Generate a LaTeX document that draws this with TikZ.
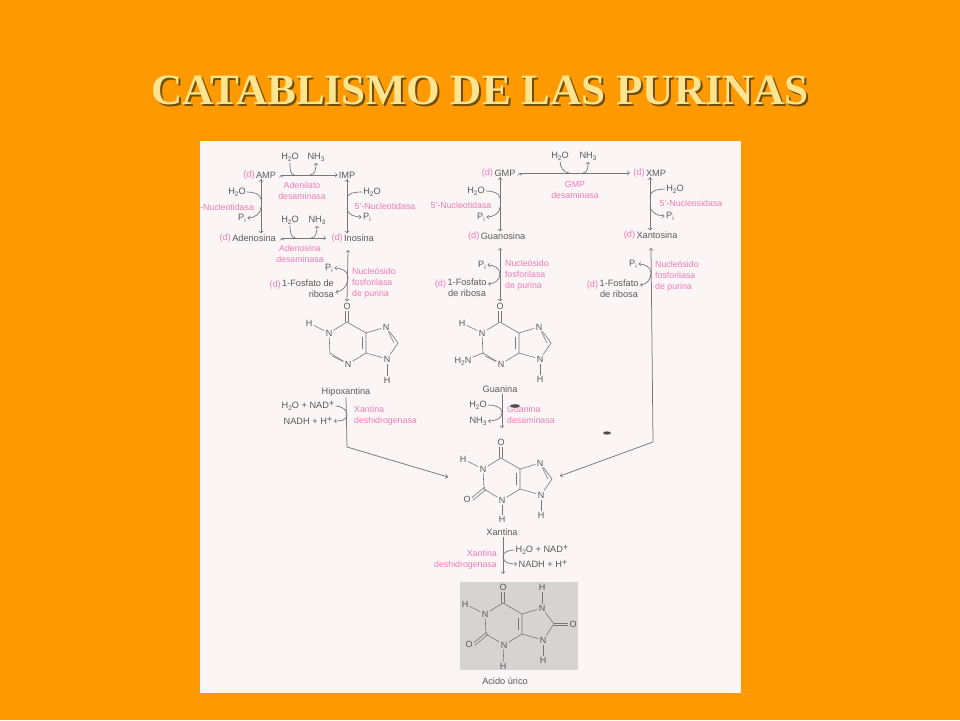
\documentclass[tikz,border=0pt]{standalone}
\usepackage{fontspec}
\usetikzlibrary{positioning}
\setmainfont{Liberation Sans}
\newfontfamily\titlefont{Liberation Serif}
\definecolor{fondo}{HTML}{FF9900}
\definecolor{panel}{HTML}{FBF5F5}
\definecolor{tinta}{HTML}{5A5A5A}
\definecolor{linea}{HTML}{777777}
\definecolor{rosa}{HTML}{EE7DB4}
\definecolor{gris}{HTML}{D6D4D2}
\definecolor{crema}{HTML}{FFE48F}
\definecolor{sombra}{HTML}{6E4E08}
\newcommand{\Bajo}[1]{\raisebox{-2pt}{\fontsize{6.5}{7}\selectfont #1}}
\newcommand{\Agua}{H\Bajo{2}O}
\newcommand{\Amonio}{NH\Bajo{3}}
\newcommand{\Pfos}{P\Bajo{i}}
\newcommand{\Mas}{\raisebox{2pt}{+}}
\tikzset{
  tag/.style={inner sep=1pt,font=\fontsize{9.2}{11}\selectfont,text=tinta,align=center},
  dtag/.style={inner sep=0pt,font=\fontsize{9.2}{11}\selectfont,text=rosa},
  enzima/.style={inner sep=0pt,font=\fontsize{8.8}{11}\selectfont,text=rosa,align=left},
  atomo/.style={inner sep=1.2pt,font=\fontsize{9}{10}\selectfont,text=tinta},
  bond/.style={draw=linea,line width=0.6pt},
  rxn/.style={draw=linea,line width=0.75pt},
  hook/.style={draw=linea,line width=0.7pt,shorten >=0.5pt}
}
% anillo de purina: #1,#2 = carbono 6, #3 = prefijo
\newcommand{\purina}[3]{
\begin{scope}[shift={(#1,#2)},name prefix=#3-]
\coordinate (c6) at (0,0);
\coordinate (c5) at (19,11);
\coordinate (c4) at (19,31);
\coordinate (c2) at (-17,31);
\coordinate (c8) at (51,21);
\node[atomo] (o6) at (0,-16) {O};
\node[atomo] (n1) at (-18,11) {N};
\node[atomo] (h1) at (-38,1) {H};
\node[atomo] (n3) at (1,42) {N};
\node[atomo] (n7) at (39,5) {N};
\node[atomo] (n9) at (40,37) {N};
\draw[bond] ([xshift=-1.3pt]c6) -- ([xshift=-1.3pt]o6.south);
\draw[bond] ([xshift=1.3pt]c6) -- ([xshift=1.3pt]o6.south);
\draw[bond] (h1) -- (n1) -- (c6) -- (c5) -- (c4) -- (n3) -- (c2) -- (n1);
\draw[bond] (c5) -- (n7) -- (c8) -- (n9) -- (c4);
\draw[bond] ([shift={(-4,4)}]c5) -- ([shift={(-4,-4)}]c4);
\end{scope}
}
\begin{document}
\begin{tikzpicture}[x=1pt,y=-1pt]
\useasboundingbox (0,0) rectangle (960,720);
\fill[fondo] (0,0) rectangle (960,720);
\fill[panel] (200,141) rectangle (741,693);
\fill[gris] (460,582) rectangle (578,670);

\node[font=\titlefont\bfseries\fontsize{43.2}{46}\selectfont,text=sombra] (tituloB) at (482,92) {CATABLISMO DE LAS PURINAS};
\node[font=\titlefont\bfseries\fontsize{43.2}{46}\selectfont,text=crema] (titulo) at (480,90) {CATABLISMO DE LAS PURINAS};

% columna izquierda
\node[tag] (amp) at (266,175) {AMP};
\node[dtag,left=0pt of amp] (damp) {(d)};
\node[tag] (imp) at (347,175) {IMP};
\node[tag] (adenosina) at (254,238) {Adenosina};
\node[dtag,left=0pt of adenosina] (dadenosina) {(d)};
\node[tag] (inosina) at (359,238) {Inosina};
\node[dtag,left=0pt of inosina] (dinosina) {(d)};
\node[tag] (aguaA) at (290,157) {\Agua};
\node[tag] (amonA) at (316,157) {\Amonio};
\node[tag] (aguaB) at (237,192) {\Agua};
\node[tag] (piB) at (242,218) {\Pfos};
\node[tag] (aguaC) at (372,192) {\Agua};
\node[tag] (piC) at (367,217) {\Pfos};
\node[tag] (aguaD) at (290,220) {\Agua};
\node[tag] (amonD) at (317,220) {\Amonio};
\node[tag] (piE) at (329,268) {\Pfos};
\node[tag,align=right] (fosfE) at (308,289) {1-Fosfato de\\\hfill ribosa};
\node[dtag,left=0pt of fosfE.north west,yshift=-6pt] (dfosfE) {(d)};
\node[enzima,align=center] (enzA) at (302,191) {Adenilato\\desaminasa};
\node[enzima] (enzB) at (227,207) {-Nucleotidasa};
\node[enzima] (enzC) at (385,206) {5'-Nucleotidasa};
\node[enzima,align=center] (enzD) at (300,254) {Adenosina\\desaminasa};
\node[enzima,anchor=west] (enzE) at (352,283) {Nucleósido\\fosforilasa\\de purina};

\path[->,rxn] ([xshift=4pt]amp.east) edge (imp.west);
\path[->,rxn] ([xshift=5pt]adenosina.east) edge ([xshift=-17pt]inosina.west);
\path[->,rxn] ([xshift=-5pt]amp.south) edge ([xshift=-5pt]amp.south |- adenosina.north);
\path[->,rxn] (imp.south) edge (imp.south |- inosina.north);

\coordinate (mA1) at (295,175);
\coordinate (mA2) at (310,175);
\coordinate (mB1) at (261,200);
\coordinate (mB2) at (261,207);
\coordinate (mC1) at (347,199);
\coordinate (mC2) at (347,208);
\coordinate (mD1) at (296,238);
\coordinate (mD2) at (311,238);
\coordinate (mE) at (348,277);
\draw[hook] (aguaA.south) to[out=-90,in=180] (mA1);
\draw[hook,->] (mA2) to[out=0,in=-90] (amonA.south);
\draw[hook] (aguaB.east) to[out=0,in=90] (mB1);
\draw[hook,->] (mB2) to[out=-90,in=0] (piB.east);
\draw[hook] (aguaC.west) to[out=180,in=90] (mC1);
\draw[hook,->] (mC2) to[out=-90,in=180] (piC.west);
\draw[hook] (aguaD.south) to[out=-90,in=180] (mD1);
\draw[hook,->] (mD2) to[out=0,in=-90] (amonD.south);
\draw[hook,->] (mE) to[out=90,in=0] (piE.east);
\draw[hook,->] (mE) to[out=-90,in=0] ([yshift=-3pt]fosfE.east);

% columna central
\node[tag] (gmp) at (505,173) {GMP};
\node[dtag,left=0pt of gmp] (dgmp) {(d)};
\node[tag] (xmp) at (656,173) {XMP};
\node[dtag,left=0pt of xmp] (dxmp) {(d)};
\node[tag] (guanosina) at (503,236) {Guanosina};
\node[dtag,left=0pt of guanosina] (dguanosina) {(d)};
\node[tag] (xantosina) at (657,235) {Xantosina};
\node[dtag,left=0pt of xantosina] (dxantosina) {(d)};
\node[tag] (aguaF) at (560,156) {\Agua};
\node[tag] (amonF) at (588,156) {\Amonio};
\node[tag] (aguaG) at (476,191) {\Agua};
\node[tag] (piG) at (481,217) {\Pfos};
\node[tag] (aguaH) at (675,189) {\Agua};
\node[tag] (piH) at (670,216) {\Pfos};
\node[tag] (piI) at (482,265) {\Pfos};
\node[tag] (fosfI) at (467,288) {1-Fosfato\\de ribosa};
\node[dtag,left=0pt of fosfI.north west,yshift=-6pt] (dfosfI) {(d)};
\node[tag] (piJ) at (633,264) {\Pfos};
\node[tag] (fosfJ) at (619,289) {1-Fosfato\\de ribosa};
\node[dtag,left=0pt of fosfJ.north west,yshift=-6pt] (dfosfJ) {(d)};
\node[enzima,align=center] (enzF) at (575,190) {GMP\\desaminasa};
\node[enzima] (enzG) at (461,205) {5'-Nucleotidasa};
\node[enzima] (enzH) at (691,203) {5'-Nucleosidasa};
\node[enzima,anchor=west] (enzI) at (505,275) {Nucleósido\\fosforilasa\\de purina};
\node[enzima,anchor=west] (enzJ) at (655,276) {Nucleósido\\fosforilasa\\de purina};

\path[->,rxn] ([xshift=3pt]gmp.east) edge ([xshift=-15pt]xmp.west);
\path[->,rxn] ([xshift=-5pt]gmp.south) edge ([xshift=-5pt]gmp.south |- guanosina.north);
\path[->,rxn] ([xshift=-6pt]xmp.south) edge ([xshift=-6pt]xmp.south |- xantosina.north);

\coordinate (mF1) at (570,173);
\coordinate (mF2) at (583,173);
\coordinate (mG1) at (500,199);
\coordinate (mG2) at (500,207);
\coordinate (mH1) at (650,197);
\coordinate (mH2) at (650,205);
\coordinate (mI) at (500,274);
\coordinate (mJ) at (651,273);
\draw[hook] (aguaF.south) to[out=-90,in=180] (mF1);
\draw[hook,->] (mF2) to[out=0,in=-90] (amonF.south);
\draw[hook] (aguaG.east) to[out=0,in=90] (mG1);
\draw[hook,->] (mG2) to[out=-90,in=0] (piG.east);
\draw[hook] (aguaH.west) to[out=180,in=90] (mH1);
\draw[hook,->] (mH2) to[out=-90,in=180] (piH.west);
\draw[hook,->] (mI) to[out=90,in=0] (piI.east);
\draw[hook,->] (mI) to[out=-90,in=0] ([yshift=-6pt]fosfI.north east);
\draw[hook,->] (mJ) to[out=90,in=0] (piJ.east);
\draw[hook,->] (mJ) to[out=-90,in=0] ([yshift=-6pt]fosfJ.north east);

% hipoxantina
\purina{347}{322}{hx}
\draw[bond] ([shift={(3,-3)}]hx-n3) -- ([shift={(2,3)}]hx-c2);
\node[atomo] (hx-h9) at (387,380) {H};
\draw[bond] (hx-n9) -- (hx-h9);
\draw[bond] ([shift={(-2,3)}]hx-n7) -- ([shift={(-4,0)}]hx-c8);
\node[tag] (hipox) at (346,392) {Hipoxantina};
\node[tag] (nadA) at (308,406) {\Agua{} + NAD\Mas};
\node[tag] (nadhA) at (308,421) {NADH + H\Mas};
\node[enzima,anchor=west] (enzK) at (354,416) {Xantina\\deshidrogenasa};
\coordinate (mK) at (347,415);
\draw[hook] (nadA.east) to[out=0,in=90] (mK);
\draw[hook,->] (mK) to[out=-90,in=0] (nadhA.east);

% guanina
\purina{500}{322}{gu}
\node[atomo] (gu-nh2) at (463,361) {H\Bajo{2}N};
\draw[bond] (gu-nh2) -- (gu-c2);
\draw[bond] ([shift={(3,-3)}]gu-n3) -- ([shift={(2,3)}]gu-c2);
\node[atomo] (gu-h9) at (540,379) {H};
\draw[bond] (gu-n9) -- (gu-h9);
\draw[bond] ([shift={(-2,3)}]gu-n7) -- ([shift={(-4,0)}]gu-c8);
\node[tag] (guanina) at (500,389) {Guanina};
\node[tag] (aguaL) at (478,405) {\Agua};
\node[tag] (amonL) at (478,421) {\Amonio};
\node[enzima,anchor=west] (enzL) at (507,415) {Guanina\\desaminasa};
\coordinate (mL) at (502,413);
\coordinate (finL) at (502,428);
\draw[rxn,->] ([xshift=2pt]guanina.south) -- (finL);
\draw[hook] (aguaL.east) to[out=0,in=90] (mL);
\draw[hook,->] (mL) to[out=-90,in=0] (amonL.east);
\fill[black!70] (515,406) ellipse [x radius=5pt,y radius=1.8pt];
\fill[black!70] (607,433) ellipse [x radius=4pt,y radius=1.6pt];

% xantina
\purina{501}{458}{xa}
\node[atomo] (xa-o2) at (467,499) {O};
\draw[bond] ([shift={(0,-1.4)}]xa-o2.east) -- ([shift={(1,-2)}]xa-c2);
\draw[bond] ([shift={(1,1.2)}]xa-o2.east) -- ([shift={(2,0.6)}]xa-c2);
\node[atomo] (xa-h3) at (502,519) {H};
\draw[bond] (xa-n3) -- (xa-h3);
\node[atomo] (xa-h9) at (541,515) {H};
\draw[bond] (xa-n9) -- (xa-h9);
\draw[bond] ([shift={(-2,3)}]xa-n7) -- ([shift={(-4,0)}]xa-c8);
\node[tag] (xantina) at (502,532) {Xantina};
\node[tag] (nadB) at (542,550) {\Agua{} + NAD\Mas};
\node[tag] (nadhB) at (543,564) {NADH + H\Mas};
\node[enzima,align=right,anchor=east] (enzM) at (497,560) {Xantina\\deshidrogenasa};
\coordinate (mM) at (503,557);
\coordinate (finM) at (503,574);
\draw[rxn,->] ([xshift=1pt]xantina.south) -- (finM);
\draw[hook] (nadB.west) to[out=180,in=90] (mM);
\draw[hook,->] (mM) to[out=-90,in=180] (nadhB.west);

% rutas hacia la xantina
\coordinate (bendH) at (347,447);
\coordinate (xaL) at (448,477);
\coordinate (bendX) at (653,442);
\coordinate (xaR) at (560,476);
\coordinate (topX) at (651,248);
\draw[rxn,->] (hipox.south) -- (bendH) -- (xaL);
\draw[rxn,<->] (topX) -- (bendX) -- (xaR);
\coordinate (topE) at (348,250);
\coordinate (topI) at (500,248);
\draw[rxn,<->] (topE) -- (hx-o6.north);
\draw[rxn,<->] (topI) -- (gu-o6.north);

% acido urico
\purina{503}{603}{ur}
\node[atomo] (ur-o2) at (469,644) {O};
\draw[bond] ([shift={(0,-1.4)}]ur-o2.east) -- ([shift={(1,-2)}]ur-c2);
\draw[bond] ([shift={(1,1.2)}]ur-o2.east) -- ([shift={(2,0.6)}]ur-c2);
\node[atomo] (ur-h3) at (503,666) {H};
\draw[bond] (ur-n3) -- (ur-h3);
\node[atomo] (ur-h7) at (542,587) {H};
\draw[bond] (ur-n7) -- (ur-h7);
\node[atomo] (ur-h9) at (543,660) {H};
\draw[bond] (ur-n9) -- (ur-h9);
\node[atomo] (ur-o8) at (573,624) {O};
\draw[bond] ([yshift=1pt]ur-c8) -- ([yshift=1pt]ur-o8.west);
\draw[bond] ([yshift=-1pt]ur-c8) -- ([yshift=-1pt]ur-o8.west);
\node[tag] (urico) at (505,681) {Acido úrico};
\end{tikzpicture}
\end{document}
